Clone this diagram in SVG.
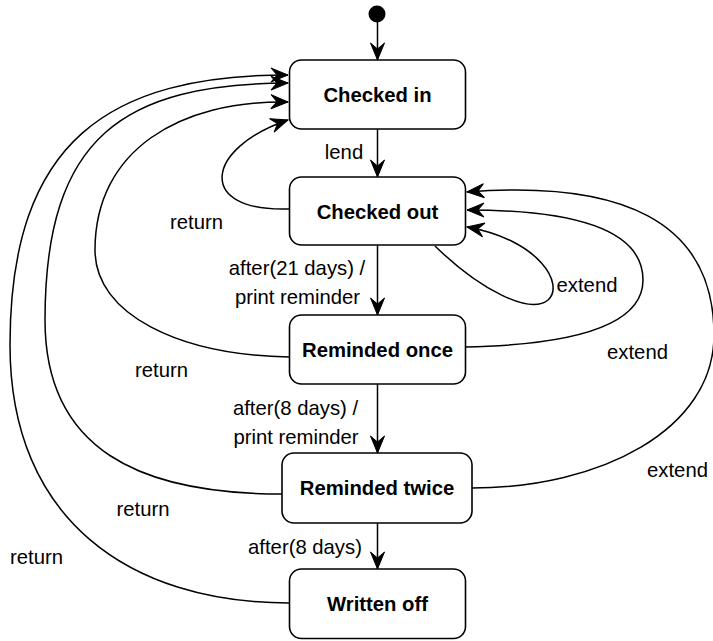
<svg xmlns="http://www.w3.org/2000/svg" width="713" height="641" viewBox="0 0 713 641">
<defs>
<marker id="arr" markerUnits="userSpaceOnUse" markerWidth="20" markerHeight="16" refX="17" refY="7" orient="auto" overflow="visible">
<path d="M0,0 L17,7 L0,14 L6,7 Z" fill="#000" stroke="#000" stroke-width="1" stroke-linejoin="miter"/>
</marker>
<style>
.box{fill:#fff;stroke:#000;stroke-width:1.6}
.e{fill:none;stroke:#000;stroke-width:1.5;marker-end:url(#arr)}
.n{font-family:"Liberation Sans",Arial,sans-serif;font-size:20.3px;font-weight:bold;text-anchor:middle;fill:#000}
.l{font-family:"Liberation Sans",Arial,sans-serif;font-size:20.3px;text-anchor:middle;fill:#000}
</style>
</defs>
<rect width="713" height="641" fill="#fff"/>
<g id="connectors">
<path class="e" d="M377.5,22 L377.5,60"/>
<path class="e" d="M377.5,129 L377.5,177"/>
<path class="e" d="M377.5,245 L377.5,315"/>
<path class="e" d="M377.5,384 L377.5,453"/>
<path class="e" d="M377.5,523 L377.5,569"/>
<path class="e" d="M289,209 C195,212 205,148 288,120"/>
<path class="e" d="M289,357 C180,355 95,315 95,250 C95,150 180,100 288,102"/>
<path class="e" d="M282,494 C140,494 45,450 45,320 C45,135 125,84 288,83"/>
<path class="e" d="M289,603 C130,603 10,520 10,345 C10,140 110,75 288,75"/>
<path class="e" d="M435,246 C480,290 530,315 548,300 C565,285 540,240 467,227"/>
<path class="e" d="M465,347 C560,345 643,330 643,280 C643,225 560,210 467,210"/>
<path class="e" d="M472,488 C600,488 714,430 714,335 C714,220 620,180 467,192"/>
<text class="l" x="344" y="159">lend</text>
<text class="l" x="297" y="275">after(21 days) /</text>
<text class="l" x="297.5" y="304">print reminder</text>
<text class="l" x="295.5" y="415">after(8 days) /</text>
<text class="l" x="296" y="444">print reminder</text>
<text class="l" x="305" y="554">after(8 days)</text>
<text class="l" x="196.5" y="229">return</text>
<text class="l" x="161.5" y="377">return</text>
<text class="l" x="143" y="516">return</text>
<text class="l" x="36.5" y="564">return</text>
<text class="l" x="587" y="292">extend</text>
<text class="l" x="637.5" y="359">extend</text>
<text class="l" x="677.5" y="477">extend</text>
</g>
<g id="initial"><circle cx="377" cy="14" r="8.5" fill="#000"/></g>
<g id="checked-in"><rect class="box" x="289.5" y="60" width="176" height="69" rx="12"/><text class="n" x="377.5" y="101.5">Checked in</text></g>
<g id="checked-out"><rect class="box" x="289.5" y="177" width="176" height="68" rx="12"/><text class="n" x="377.5" y="218.5">Checked out</text></g>
<g id="reminded-once"><rect class="box" x="289.5" y="315" width="176" height="69" rx="12"/><text class="n" x="377.5" y="356.5">Reminded once</text></g>
<g id="reminded-twice"><rect class="box" x="282" y="453" width="190" height="70" rx="12"/><text class="n" x="377" y="494.5">Reminded twice</text></g>
<g id="written-off"><rect class="box" x="289.5" y="569" width="176" height="69.5" rx="12"/><text class="n" x="377.5" y="611">Written off</text></g>
</svg>
